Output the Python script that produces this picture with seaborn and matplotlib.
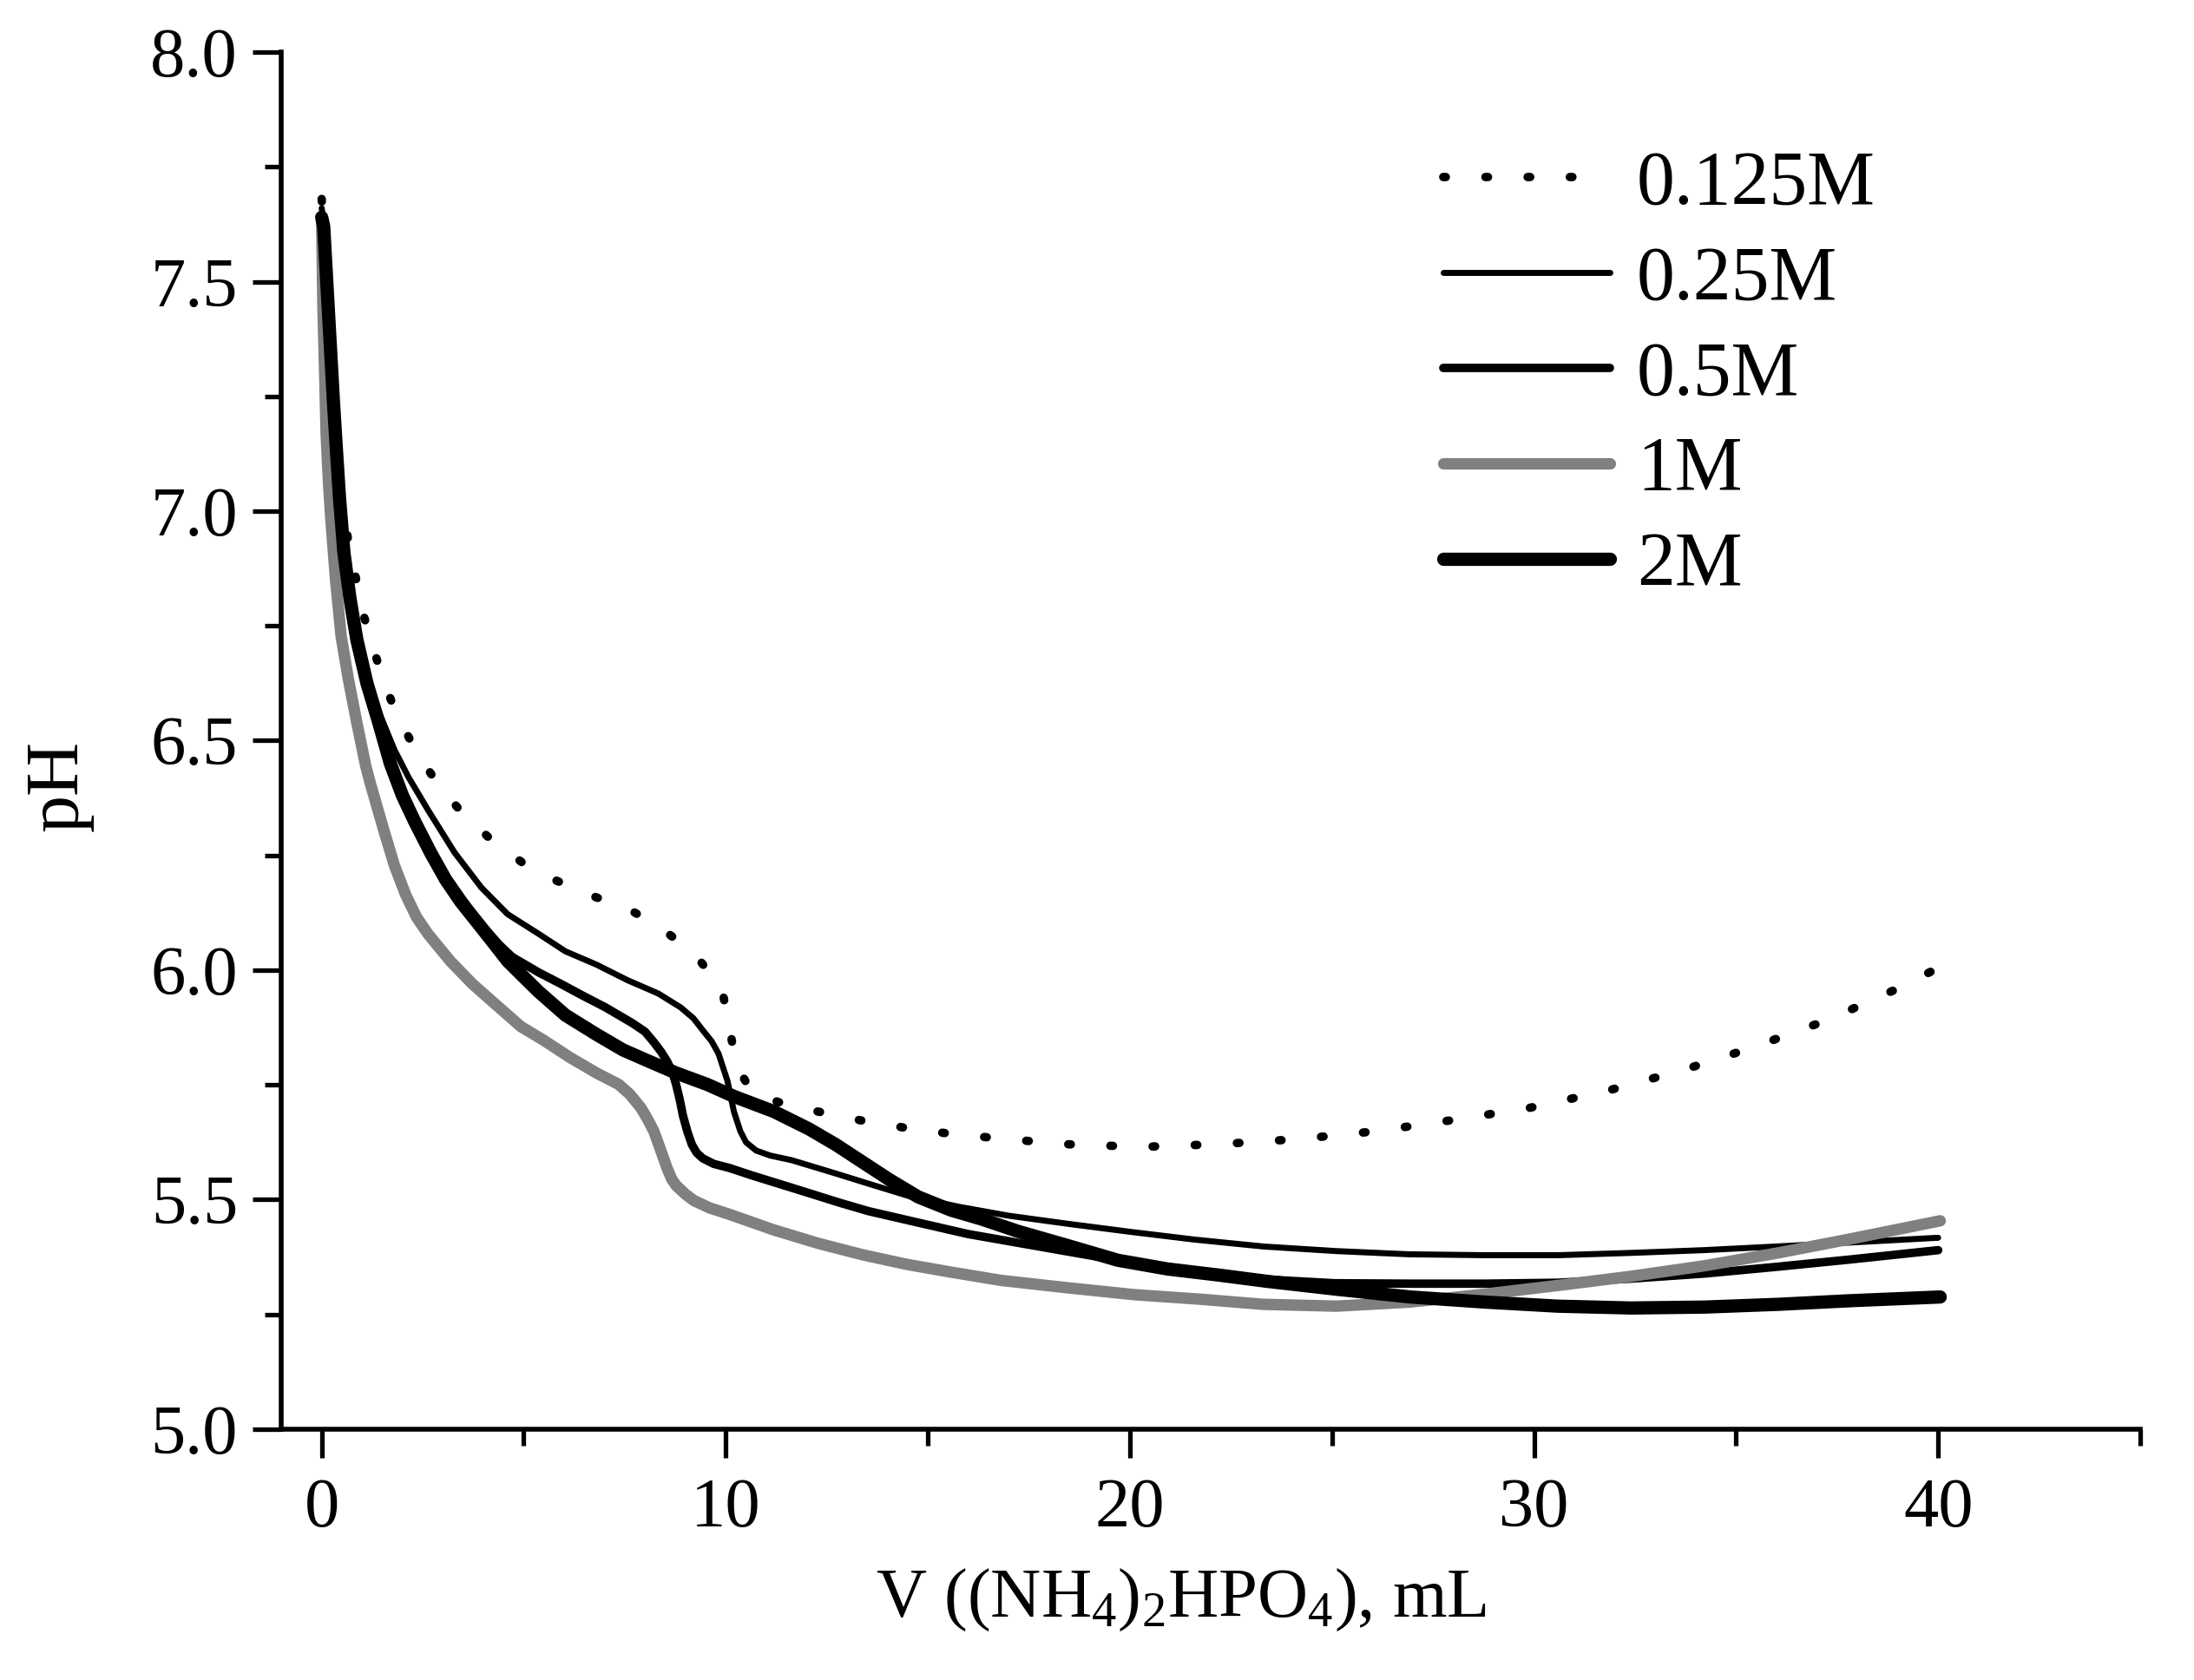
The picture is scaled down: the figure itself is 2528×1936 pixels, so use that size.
import numpy as np
import pandas as pd
import matplotlib
matplotlib.use('Agg')
import matplotlib.pyplot as plt
from matplotlib.ticker import MultipleLocator, FormatStrFormatter
import seaborn as sns

sns.set_style('ticks')
plt.rcParams['font.family'] = ['Liberation Serif', 'DejaVu Serif']
plt.rcParams['mathtext.fontset'] = 'custom'
plt.rcParams['mathtext.rm'] = 'Liberation Serif'
plt.rcParams['mathtext.default'] = 'regular'
for key in ['text.color', 'axes.labelcolor', 'xtick.color', 'ytick.color', 'axes.edgecolor']:
    plt.rcParams[key] = 'black'

# titration curves: volume (mL) and pH
v_0125 = [0.0, 0.1, 0.2, 0.35, 0.5, 0.65, 0.80, 0.98, 1.25, 1.53, 1.86, 2.32, 2.85, 3.45, 4.17,
          4.97, 5.81, 6.69, 7.62, 8.39, 9.21, 9.90, 10.09, 10.25, 10.66, 11.59, 12.56, 13.49,
          14.48, 15.43, 16.32, 18.37, 20.29, 22.24, 24.17, 26.08, 28.03, 29.89, 31.80, 33.64,
          35.46, 37.28, 39.05, 40.0]
ph_0125 = [7.68, 7.50, 7.32, 7.15, 7.02, 6.94, 6.876, 6.791, 6.709, 6.63, 6.556, 6.48, 6.408,
           6.345, 6.286, 6.234, 6.195, 6.162, 6.132, 6.092, 6.037, 5.961, 5.877, 5.794, 5.732,
           5.704, 5.687, 5.670, 5.656, 5.645, 5.637, 5.621, 5.615, 5.621, 5.632, 5.649, 5.674,
           5.70, 5.737, 5.781, 5.833, 5.892, 5.962, 6.005]

v_025 = [0.0, 0.05, 0.17, 0.29, 0.37, 0.45, 0.56, 0.71, 0.89, 1.15, 1.45, 1.80, 2.15, 2.63,
         3.29, 3.95, 4.60, 5.37, 6.03, 6.80, 7.57, 8.33, 8.88, 9.20, 9.43, 9.65, 9.82, 10.04,
         10.20, 10.36, 10.5, 10.75, 11.1, 11.63, 12.72, 13.45, 14.6, 15.8, 17.0, 18.5, 20.0,
         21.6, 23.3, 25.1, 26.9, 28.8, 30.6, 32.4, 34.2, 36.0, 37.9, 40.0]
ph_025 = [7.66, 7.63, 7.44, 7.25, 7.15, 7.04, 6.92, 6.82, 6.73, 6.635, 6.555, 6.48, 6.42, 6.349,
          6.256, 6.18, 6.122, 6.079, 6.041, 6.012, 5.978, 5.949, 5.919, 5.895, 5.869, 5.845,
          5.818, 5.759, 5.692, 5.649, 5.625, 5.607, 5.596, 5.586, 5.557, 5.537, 5.506, 5.484,
          5.465, 5.447, 5.43, 5.413, 5.398, 5.388, 5.381, 5.379, 5.379, 5.384, 5.390, 5.398,
          5.407, 5.417]

v_05 = [0.0, 0.05, 0.17, 0.29, 0.36, 0.44, 0.55, 0.70, 0.87, 1.12, 1.41, 1.70, 2.0, 2.30, 3.07,
        3.84, 4.40, 4.71, 5.37, 5.92, 6.47, 7.02, 7.68, 8.0, 8.22, 8.4, 8.55, 8.68, 8.77, 8.86,
        8.94, 9.05, 9.16, 9.28, 9.43, 9.7, 10.09, 10.64, 11.74, 12.83, 13.53, 14.76, 16.0, 17.23,
        18.46, 19.7, 20.93, 22.17, 23.4, 25.05, 26.94, 28.76, 30.58, 32.4, 34.22, 36.04, 37.86,
        40.0]
ph_05 = [7.64, 7.62, 7.43, 7.24, 7.14, 7.03, 6.91, 6.81, 6.72, 6.625, 6.54, 6.455, 6.39, 6.33,
         6.205, 6.11, 6.055, 6.029, 5.995, 5.97, 5.944, 5.919, 5.885, 5.866, 5.843, 5.822,
         5.801, 5.777, 5.751, 5.718, 5.683, 5.648, 5.62, 5.602, 5.590, 5.578, 5.569, 5.553,
         5.523, 5.493, 5.475, 5.45, 5.425, 5.406, 5.387, 5.368, 5.349, 5.336, 5.326, 5.318,
         5.317, 5.317, 5.319, 5.328, 5.339, 5.354, 5.37, 5.39]

v_1 = [0.0, 0.03, 0.08, 0.11, 0.17, 0.23, 0.34, 0.48, 0.66, 0.87, 1.09, 1.20, 1.53, 1.80, 2.08,
       2.35, 2.63, 3.18, 3.73, 4.27, 4.93, 5.48, 6.14, 6.80, 7.35, 7.62, 7.90, 8.06, 8.22, 8.40,
       8.55, 8.66, 8.77, 9.0, 9.21, 9.6, 10.09, 11.19, 12.28, 13.38, 14.48, 15.58, 16.82, 18.46,
       20.11, 21.76, 23.29, 25.11, 26.94, 28.76, 30.58, 32.4, 34.22, 36.04, 37.86, 40.05]
ph_1 = [7.63, 7.45, 7.28, 7.17, 7.06, 6.98, 6.854, 6.728, 6.634, 6.539, 6.445, 6.408, 6.307,
        6.228, 6.164, 6.115, 6.079, 6.020, 5.970, 5.928, 5.877, 5.848, 5.810, 5.776, 5.751,
        5.730, 5.700, 5.676, 5.649, 5.605, 5.568, 5.545, 5.531, 5.512, 5.498, 5.482, 5.468,
        5.434, 5.405, 5.380, 5.359, 5.342, 5.324, 5.308, 5.293, 5.283, 5.272, 5.268, 5.277,
        5.294, 5.313, 5.333, 5.356, 5.384, 5.415, 5.454]

v_2 = [0.0, 0.05, 0.17, 0.29, 0.36, 0.44, 0.55, 0.70, 0.87, 1.12, 1.41, 1.70, 2.0, 2.30, 2.7,
       3.07, 3.45, 3.84, 4.20, 4.60, 5.0, 5.37, 6.03, 6.80, 7.46, 8.11, 8.77, 9.54, 10.20,
       11.19, 12.06, 12.72, 13.38, 14.04, 14.76, 15.58, 16.32, 17.23, 18.46, 19.7, 20.93,
       22.17, 23.4, 25.1, 26.94, 28.76, 30.58, 32.4, 34.22, 36.04, 37.86, 40.05]
ph_2 = [7.64, 7.62, 7.43, 7.24, 7.14, 7.03, 6.91, 6.81, 6.72, 6.625, 6.54, 6.45, 6.38, 6.324,
        6.255, 6.197, 6.148, 6.105, 6.065, 6.02, 5.985, 5.953, 5.902, 5.86, 5.826, 5.801, 5.776,
        5.751, 5.725, 5.692, 5.654, 5.62, 5.582, 5.544, 5.506, 5.477, 5.458, 5.431, 5.40, 5.368,
        5.349, 5.336, 5.322, 5.305, 5.288, 5.277, 5.268, 5.264, 5.266, 5.272, 5.28, 5.288]

labels = ['0.125M', '0.25M', '0.5M', '1M', '2M']
volumes = [v_0125, v_025, v_05, v_1, v_2]
phs = [ph_0125, ph_025, ph_05, ph_1, ph_2]

styles = {
    '0.125M': dict(color='black', lw=7.0, ls=(0, (0.3, 4.7))),
    '0.25M': dict(color='black', lw=5.0, ls='-'),
    '0.5M': dict(color='black', lw=7.0, ls='-'),
    '1M': dict(color='#808080', lw=9.5, ls='-'),
    '2M': dict(color='black', lw=11.0, ls='-'),
}

fig = plt.figure(figsize=(25.28, 19.36), dpi=100)
ax = fig.add_axes([0.1282, 0.1493, 0.8473, 0.8197])

for lab, v, p in zip(labels, volumes, phs):
    df = pd.DataFrame({'V': v, 'pH': p})
    st = styles[lab]
    sns.lineplot(data=df, x='V', y='pH', ax=ax, estimator=None, sort=False,
                 color=st['color'], lw=st['lw'], linestyle=st['ls'], label=lab,
                 solid_capstyle='round', dash_capstyle='round', solid_joinstyle='round')

ax.set_xlim(-1, 45)
ax.set_ylim(5.0, 8.0)
ax.xaxis.set_major_locator(MultipleLocator(10))
ax.xaxis.set_minor_locator(MultipleLocator(5))
ax.yaxis.set_major_locator(MultipleLocator(0.5))
ax.yaxis.set_minor_locator(MultipleLocator(0.25))
ax.yaxis.set_major_formatter(FormatStrFormatter('%.1f'))

sns.despine(ax=ax)
for s in ['left', 'bottom']:
    ax.spines[s].set_linewidth(4)
ax.tick_params(which='major', direction='out', length=24, width=3.8, labelsize=58, pad=16)
ax.tick_params(which='minor', direction='out', length=14, width=3.8)
ax.tick_params(axis='y', which='major', pad=12)

ax.set_xlabel(r'V ((NH$_4$)$_2$HPO$_4$), mL', fontsize=58)
ax.set_ylabel('pH', fontsize=62)
ax.xaxis.set_label_coords(0.484, -0.10)
ax.yaxis.set_label_coords(-0.101, 0.467)

leg = ax.legend(loc='upper left', bbox_to_anchor=(0.625, 0.929), frameon=False, fontsize=63,
                handlelength=2.2, handletextpad=0.35, labelspacing=0.33, borderpad=0,
                borderaxespad=0)

fig.savefig('out.png', dpi=100, facecolor='white')
